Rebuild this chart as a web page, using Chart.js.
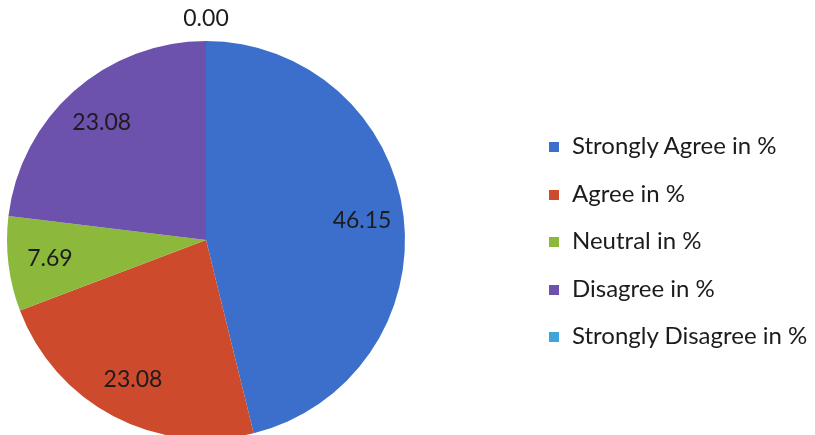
<!DOCTYPE html>
<html>
<head>
<meta charset="utf-8">
<script src="https://cdn.jsdelivr.net/npm/chart.js@4"></script>
<style>
  html, body { margin: 0; padding: 0; background: #ffffff; overflow: hidden; width: 815px; height: 435px; }
  #wrap { position: relative; width: 815px; height: 435px; }
  #pie { position: absolute; left: 0; top: 0; }
  #legend { position: absolute; left: 549px; top: 129px; font-family: Lato, "Open Sans", sans-serif; font-size: 24px; color: #1c1c1c; }
  #legend .item { height: 47.5px; line-height: 32px; white-space: nowrap; }
  #legend .box { display: inline-block; width: 10px; height: 10px; margin-right: 13px; vertical-align: 2px; }
</style>
</head>
<body>
<div id="wrap">
  <canvas id="pie" width="815" height="475"></canvas>
  <div id="legend"></div>
</div>
<script>
// Chart data
const categories = ['Strongly Agree in %', 'Agree in %', 'Neutral in %', 'Disagree in %', 'Strongly Disagree in %'];
const percentages = [46.15, 23.08, 7.69, 23.08, 0.00];
const sliceColors = ['#3c6fcb', '#cd4a2c', '#8cb83c', '#6c52ad', '#3ea4da'];

// Draws the value labels inside each slice (zero slices go just above the pie)
const valueLabels = {
  id: 'valueLabels',
  afterDatasetsDraw(chart) {
    const ctx = chart.ctx;
    const meta = chart.getDatasetMeta(0);
    ctx.save();
    ctx.font = '23px Lato, "Open Sans", sans-serif';
    ctx.fillStyle = '#1c1c1c';
    ctx.textAlign = 'center';
    ctx.textBaseline = 'middle';
    meta.data.forEach((arc, i) => {
      const { x, y, startAngle, endAngle, outerRadius } = arc.getProps(['x', 'y', 'startAngle', 'endAngle', 'outerRadius'], true);
      const mid = (startAngle + endAngle) / 2;
      const r = percentages[i] === 0 ? outerRadius * 1.115 : outerRadius * 0.79;
      ctx.fillText(percentages[i].toFixed(2), x + Math.cos(mid) * r, y + Math.sin(mid) * r);
    });
    ctx.restore();
  }
};

new Chart(document.getElementById('pie'), {
  type: 'pie',
  data: {
    labels: categories,
    datasets: [{
      data: percentages,
      backgroundColor: sliceColors,
      borderWidth: 0
    }]
  },
  options: {
    responsive: false,
    animation: false,
    layout: { padding: { left: 7, top: 41, right: 410, bottom: 36 } },
    plugins: {
      legend: { display: false },
      tooltip: { enabled: false }
    }
  },
  plugins: [valueLabels]
});

// Legend as plain HTML text
const legend = document.getElementById('legend');
categories.forEach((name, i) => {
  const item = document.createElement('div');
  item.className = 'item';
  const box = document.createElement('span');
  box.className = 'box';
  box.style.background = sliceColors[i];
  item.appendChild(box);
  item.appendChild(document.createTextNode(name));
  legend.appendChild(item);
});
</script>
</body>
</html>
